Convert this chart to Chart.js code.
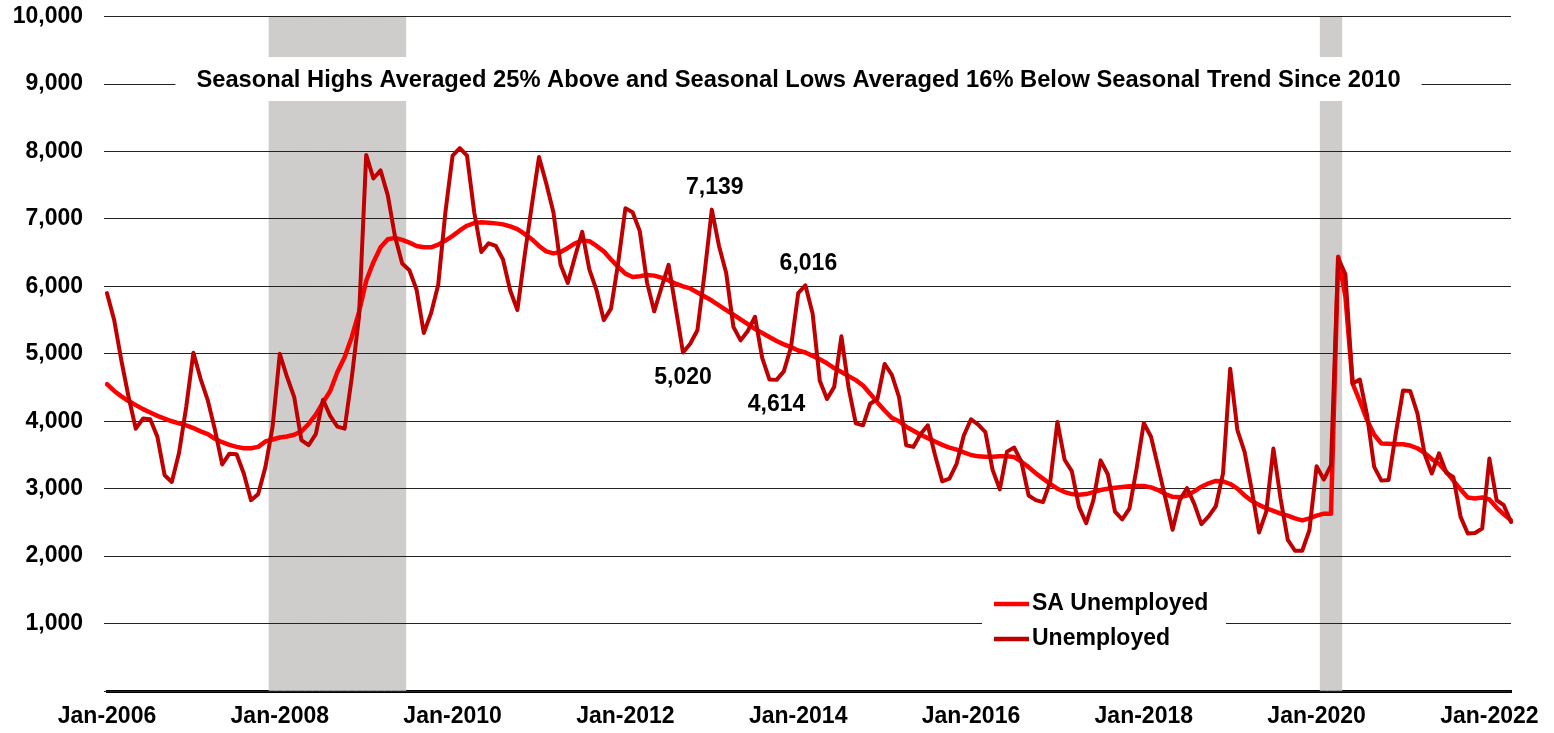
<!DOCTYPE html>
<html>
<head>
<meta charset="utf-8">
<script src="https://cdn.jsdelivr.net/npm/chart.js@4.4.1/dist/chart.umd.min.js"></script>
<style>
html,body{margin:0;padding:0;background:#fff;}
#wrap{width:1554px;height:733px;position:relative;}
</style>
</head>
<body>
<div id="wrap"><canvas id="c"></canvas></div>
<script>
// ---- categories: monthly, Jan-2006 .. Apr-2022 ----
const MONTH_NAMES = ['Jan','Feb','Mar','Apr','May','Jun','Jul','Aug','Sep','Oct','Nov','Dec'];
const categories = [];
for (let y = 2006; y <= 2022; y++) {
  for (let m = 0; m < 12; m++) {
    if (y === 2022 && m > 3) break;
    categories.push(MONTH_NAMES[m] + '-' + y);
  }
}

// ---- tick labels shown on the x axis ----
const tickLabels = ['Jan-2006','Jan-2008','Jan-2010','Jan-2012','Jan-2014','Jan-2016','Jan-2018','Jan-2020','Jan-2022'];

// ---- series: SA Unemployed ----
const saUnemployed = [
  4550,4450,4370,4300,4240,4180,4130,4080,4040,4000,3970,3940,
  3900,3850,3810,3740,3690,3650,3620,3600,3600,3620,3700,3730,
  3760,3775,3800,3850,3960,4100,4280,4450,4730,4950,5250,5620,
  6080,6360,6580,6700,6720,6690,6650,6600,6580,6580,6620,6680,
  6750,6830,6900,6940,6950,6945,6935,6920,6890,6850,6780,6700,
  6600,6520,6490,6510,6570,6640,6680,6670,6600,6520,6400,6290,
  6190,6140,6150,6170,6160,6130,6090,6040,6000,5970,5910,5850,
  5790,5720,5650,5580,5510,5440,5370,5310,5250,5190,5140,5100,
  5050,5020,4970,4920,4860,4790,4730,4670,4610,4530,4410,4280,
  4160,4050,4000,3920,3860,3800,3750,3700,3650,3610,3580,3540,
  3500,3480,3475,3475,3480,3480,3470,3400,3320,3230,3150,3070,
  3000,2950,2920,2910,2920,2950,2980,3000,3015,3025,3035,3040,
  3040,3020,2980,2920,2880,2875,2900,2960,3030,3080,3115,3110,
  3070,3000,2900,2820,2760,2710,2670,2630,2600,2560,2530,2560,
  2600,2630,2630,6440,5850,4560,4300,4020,3800,3670,3665,3660,
  3660,3640,3600,3530,3440,3370,3250,3120,2990,2870,2855,2870,
  2840,2720,2620,2530
];

// ---- series: Unemployed (not seasonally adjusted) ----
const unemployed = [
  5900,5500,4900,4360,3890,4040,4030,3770,3200,3100,3530,4210,
  5015,4630,4310,3870,3360,3520,3510,3225,2830,2920,3320,3920,
  5000,4660,4360,3720,3645,3810,4320,4080,3920,3890,4650,5550,
  7950,7600,7720,7350,6740,6340,6240,5950,5310,5600,6020,7100,
  7940,8050,7940,7100,6510,6640,6600,6400,5940,5650,6450,7200,
  7920,7530,7100,6320,6050,6440,6810,6250,5940,5500,5670,6350,
  7160,7100,6820,6060,5630,5980,6320,5670,5020,5150,5350,6200,
  7139,6600,6200,5400,5200,5340,5550,4940,4620,4614,4740,5100,
  5900,6016,5600,4600,4330,4510,5260,4500,3970,3940,4260,4330,
  4850,4690,4360,3645,3620,3810,3940,3500,3110,3150,3370,3790,
  4030,3950,3840,3280,2990,3550,3610,3400,2900,2830,2800,3100,
  3990,3430,3260,2730,2490,2830,3420,3215,2660,2545,2705,3300,
  3975,3770,3320,2860,2390,2830,3010,2780,2475,2590,2740,3225,
  4780,3870,3546,2980,2350,2656,3596,2850,2240,2080,2080,2384,
  3334,3136,3350,6420,6180,4560,4620,4100,3323,3120,3130,3820,
  4455,4450,4116,3515,3225,3525,3240,3170,2582,2335,2344,2409,
  3448,2829,2755,2507
];

// ---- recession periods (shaded) ----
const recessions = [['Dec-2007','Jun-2009'], ['Feb-2020','Apr-2020']];
const recessionTop = 10000;

// ---- annotated points of the Unemployed series ----
const annotatedMonths = ['Sep-2012','Jan-2013','Oct-2013','Feb-2014'];
const annotatedSide   = ['below','above','below','above'];

const titleText = 'Seasonal Highs Averaged 25% Above and Seasonal Lows Averaged 16% Below Seasonal Trend Since 2010';

// build recession bar data from the ranges
const recessionData = categories.map((c, i) => {
  for (const [a, b] of recessions) {
    const ia = categories.indexOf(a), ib = categories.indexOf(b);
    if (i >= ia && i <= ib) return recessionTop;
  }
  return null;
});

const FONT = '"Liberation Sans", Arial, Helvetica, sans-serif';
const fmt = v => v.toLocaleString('en-US');

const overlay = {
  id: 'overlay',
  afterDatasetDraw(chart, args) {
    // grid lines are visible over the shaded recession columns
    if (args.meta.type === 'bar') chart.scales.y.drawGrid(chart.chartArea);
  },
  afterDatasetsDraw(chart) {
    const ctx = chart.ctx;
    ctx.save();
    // title box
    ctx.font = 'bold 23.7px ' + FONT;
    const tw = ctx.measureText(titleText).width;
    const cx = 798.5, cy = 80;
    ctx.fillStyle = '#fff';
    ctx.fillRect(cx - tw / 2 - 21, 57, tw + 42, 44);
    ctx.fillStyle = '#000';
    ctx.textAlign = 'center';
    ctx.textBaseline = 'middle';
    ctx.fillText(titleText, cx, cy);

    // value labels
    ctx.font = 'bold 23px ' + FONT;
    const meta = chart.getDatasetMeta(1);
    annotatedMonths.forEach((m, k) => {
      const i = categories.indexOf(m);
      const el = meta.data[i];
      const above = annotatedSide[k] === 'above';
      ctx.fillText(fmt(unemployed[i]), el.x + (above ? 3 : 0), el.y + (above ? -22 : 25));
    });

    // legend box
    ctx.fillStyle = '#fff';
    ctx.fillRect(982, 585, 244, 72);
    const items = [
      {label: chart.data.datasets[0].label, color: chart.data.datasets[0].borderColor, w: 4.5, y: 604},
      {label: chart.data.datasets[1].label, color: chart.data.datasets[1].borderColor, w: 4.5, y: 639}
    ];
    ctx.textAlign = 'left';
    items.forEach(it => {
      ctx.strokeStyle = it.color;
      ctx.lineWidth = it.w;
      ctx.beginPath();
      ctx.moveTo(994, it.y);
      ctx.lineTo(1029, it.y);
      ctx.stroke();
      ctx.fillStyle = '#000';
      ctx.fillText(it.label, 1032, it.y);
    });
    ctx.restore();
  }
};

new Chart(document.getElementById('c'), {
  type: 'line',
  data: {
    labels: categories,
    datasets: [
      {
        type: 'line', label: 'SA Unemployed', data: saUnemployed,
        borderColor: '#FF0000', borderWidth: 4.5, pointRadius: 0, tension: 0,
        borderJoinStyle: 'round', borderCapStyle: 'round', order: 2
      },
      {
        type: 'line', label: 'Unemployed', data: unemployed,
        borderColor: '#C00000', borderWidth: 4, pointRadius: 0, tension: 0,
        borderJoinStyle: 'round', borderCapStyle: 'round', order: 1
      },
      {
        type: 'bar', label: 'Recession', data: recessionData,
        backgroundColor: '#CECDCB', borderWidth: 0,
        barPercentage: 1, categoryPercentage: 1, order: 3
      }
    ]
  },
  options: {
    responsive: true,
    maintainAspectRatio: false,
    animation: false,
    events: [],
    layout: { padding: { top: 16.7, right: 43, left: 0, bottom: 0 } },
    plugins: { legend: { display: false }, tooltip: { enabled: false } },
    scales: {
      x: {
        type: 'category',
        offset: false,
        grid: { display: false, drawTicks: false },
        border: { display: true, color: '#000', width: 3 },
        ticks: {
          autoSkip: false, maxRotation: 0, minRotation: 0, padding: 12,
          color: '#000', font: { family: FONT, size: 23, weight: 'bold' },
          callback: function (val, idx) {
            const l = this.getLabelForValue(val);
            return tickLabels.includes(l) ? l : '';
          }
        },
        afterFit: s => { s.height = 42; }
      },
      y: {
        min: 0, max: 10000,
        grid: {
          color: '#222', lineWidth: 1, drawTicks: true, tickLength: 24,
          tickBorderDash: [0, 21, 3, 0]
        },
        border: { display: false },
        ticks: {
          stepSize: 1000, padding: 0, color: '#000',
          font: { family: FONT, size: 23, weight: 'bold' },
          callback: v => v === 0 ? '' : fmt(v)
        },
        afterFit: s => { s.width = 107; }
      }
    }
  },
  plugins: [overlay]
});
</script>
</body>
</html>
